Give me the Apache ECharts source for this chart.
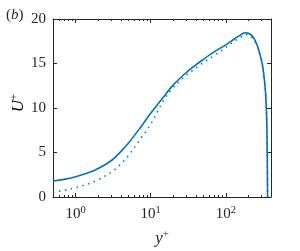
<!DOCTYPE html>
<html>
<head>
<meta charset="utf-8">
<script src="https://cdn.jsdelivr.net/npm/echarts@6/dist/echarts.min.js"></script>
<style>html,body{margin:0;padding:0;background:#fff}#c{width:300px;height:251px}</style>
</head>
<body>
<div id="c"></div>
<script>
const yPlus = [0.5, 0.7, 1, 1.5, 2, 3, 4, 5, 7, 10, 15, 20, 30, 40, 50, 70, 100, 130, 160, 180, 200, 230, 260, 290, 310, 330, 340, 350, 355, 358, 360];
const uSolid = [1.8, 1.98, 2.28, 2.75, 3.2, 4.1, 5.1, 6.0, 7.6, 9.4, 11.3, 12.6, 14.0, 14.85, 15.45, 16.3, 17.1, 17.75, 18.25, 18.45, 18.4, 18.0, 17.1, 15.8, 14.7, 12.8, 11.5, 9.0, 6.0, 3.2, 0];
const uDotted = [0.55, 0.75, 1.05, 1.5, 1.95, 2.8, 3.7, 4.6, 6.3, 8.2, 10.9, 12.3, 13.7, 14.5, 15.1, 15.9, 16.8, 17.5, 18.0, 18.25, 18.2, 17.8, 17.0, 15.7, 14.6, 12.7, 11.3, 8.5, 5.0, 2.0, 0];
const xMajorTicks = [1, 10, 100];
const xMinorTicks = [0.5, 0.6, 0.7, 0.8, 0.9, 2, 3, 4, 5, 6, 7, 8, 9, 20, 30, 40, 50, 60, 70, 80, 90, 200, 300, 400];
const yTicks = [0, 5, 10, 15, 20];

const FONT = 'Liberation Serif';
const AX = '#262626';
const BLUE = '#0072BD';

const chart = echarts.init(document.getElementById('c'), null, {renderer: 'canvas'});
const supRich = {
  b: {fontFamily: FONT, fontSize: 15, color: AX, lineHeight: 18},
  s: {fontFamily: FONT, fontSize: 10.5, color: AX, verticalAlign: 'top', lineHeight: 10}
};
function xAx(pos, ticks, len, showLine, labels) {
  return {
    type: 'log', logBase: 10, min: 0.5, max: 400, position: pos,
    axisLine: {show: showLine, lineStyle: {color: AX, width: 1}},
    axisTick: {show: true, inside: true, length: len, customValues: ticks, lineStyle: {color: AX, width: 1}},
    axisLabel: labels ? {
      show: true, customValues: xMajorTicks, margin: 8,
      formatter: v => '{b|10}{s|' + Math.round(Math.log10(v)) + '}',
      rich: supRich
    } : {show: false},
    splitLine: {show: false}, minorTick: {show: false}
  };
}
const nameRich = {
  i: {fontFamily: FONT, fontSize: 17, fontStyle: 'italic', color: AX, lineHeight: 20},
  s: {fontFamily: FONT, fontSize: 11, color: AX, verticalAlign: 'top', lineHeight: 11}
};
const option = {
  animation: false,
  backgroundColor: '#fff',
  title: {
    text: '({i|b})', left: 1, top: 3,
    textStyle: {fontFamily: FONT, fontSize: 15, fontWeight: 'normal', color: AX,
      rich: {i: {fontFamily: FONT, fontSize: 15, fontStyle: 'italic', color: AX}}}
  },
  graphic: [{
    type: 'text', x: 19, y: 103, rotation: Math.PI / 2,
    style: {text: '{i|U}{s|+}', rich: nameRich, align: 'center', verticalAlign: 'middle'}
  }],
  grid: {left: 53, right: 29, top: 19, bottom: 54, containLabel: false, outerBoundsMode: 'none'},
  xAxis: [
    Object.assign(xAx('bottom', xMajorTicks, 4, true, true), {
      name: '{i|y}{s|+}', nameLocation: 'middle', nameGap: 32,
      nameTextStyle: {rich: nameRich}
    }),
    xAx('bottom', xMinorTicks, 2, false, false),
    xAx('top', xMajorTicks, 4, true, false),
    xAx('top', xMinorTicks, 2, false, false)
  ],
  yAxis: [
    {
      type: 'value', min: 0, max: 20, interval: 5, position: 'left',
      axisLine: {show: true, lineStyle: {color: AX, width: 1}},
      axisTick: {show: true, inside: true, length: 4, lineStyle: {color: AX}},
      axisLabel: {show: true, margin: 7, fontFamily: FONT, fontSize: 15, color: AX,
        customValues: yTicks},
      splitLine: {show: false}
    },
    {
      type: 'value', min: 0, max: 20, interval: 5, position: 'right',
      axisLine: {show: true, lineStyle: {color: AX, width: 1}},
      axisTick: {show: true, inside: true, length: 4, lineStyle: {color: AX}},
      axisLabel: {show: false}, splitLine: {show: false}
    }
  ],
  series: [
    {
      type: 'line', xAxisIndex: 0, yAxisIndex: 0, showSymbol: false, smooth: 0.35,
      data: yPlus.map((x, i) => [x, uSolid[i]]),
      lineStyle: {color: BLUE, width: 1.6}, itemStyle: {color: BLUE}
    },
    {
      type: 'line', xAxisIndex: 0, yAxisIndex: 0, showSymbol: false, smooth: 0.35,
      data: yPlus.map((x, i) => [x, uDotted[i]]),
      lineStyle: {color: BLUE, width: 1.5, type: [1.5, 4.5]}, itemStyle: {color: BLUE}
    }
  ]
};
chart.setOption(option);
</script>
</body>
</html>
